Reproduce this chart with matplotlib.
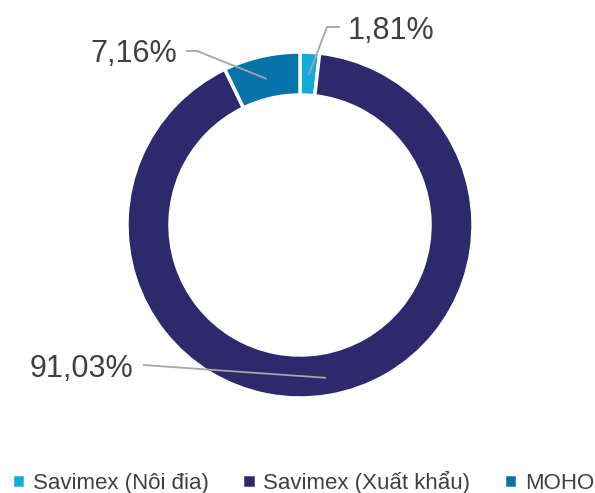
import numpy as np
import matplotlib
matplotlib.use("Agg")
import matplotlib.pyplot as plt

# ── data ─────────────────────────────────────────────────────────────
labels = ["Savimex (Nôi đia)", "Savimex (Xuất khẩu)", "MOHO"]
shares = [1.81, 91.03, 7.16]
colors = ["#12ACDA", "#2E296C", "#0673AA"]
pct_text = ["1,81%", "91,03%", "7,16%"]

plt.rcParams["font.family"] = ["Liberation Sans", "DejaVu Sans"]

W, H = 595, 493
fig = plt.figure(figsize=(W / 100, H / 100), dpi=100)
ax = fig.add_axes([0, 0, 1, 1])
ax.axis("off")

cx, cy, R, ring = 300, H - 225, 173, 43
wedges, _ = ax.pie(shares, colors=colors, startangle=90, counterclock=False,
                   center=(cx, cy), radius=R,
                   wedgeprops=dict(width=ring, edgecolor="white", linewidth=2.5))
ax.set_xlim(0, W)
ax.set_ylim(0, H)
ax.set_aspect("equal")

# leader lines: start on the ring at the slice middle, bend, then label
layout = [
    dict(r=150, elbow=(327, 27), end=(340, 27), text=(348, 39), ha="left"),
    dict(r=155, elbow=(143, 365), end=(143, 365), text=(133, 377), ha="right"),
    dict(r=150, elbow=(197, 51), end=(186, 51), text=(177, 62), ha="right"),
]
start = 90.0
for s, txt, lay in zip(shares, pct_text, layout):
    mid = np.deg2rad(start - s * 3.6 / 2)
    start -= s * 3.6
    x0 = cx + lay["r"] * np.cos(mid)
    y0 = cy + lay["r"] * np.sin(mid)
    ex, ey = lay["elbow"]
    fx, fy = lay["end"]
    ax.plot([x0, ex, fx], [y0, H - ey, H - fy], color="#A6A6A6", lw=1.3,
            solid_capstyle="butt")
    tx, ty = lay["text"]
    ax.text(tx, H - ty, txt, ha=lay["ha"], va="baseline", fontsize=22,
            color="#404040")

leg = fig.legend(wedges, labels, loc="center", ncol=3,
                 bbox_to_anchor=(303 / W, 11 / H), frameon=False, fontsize=16,
                 handlelength=0.6, handleheight=0.6, handletextpad=0.35,
                 columnspacing=1.5, borderpad=0)
for t in leg.get_texts():
    t.set_color("#404040")

fig.savefig("out.png", dpi=100)
